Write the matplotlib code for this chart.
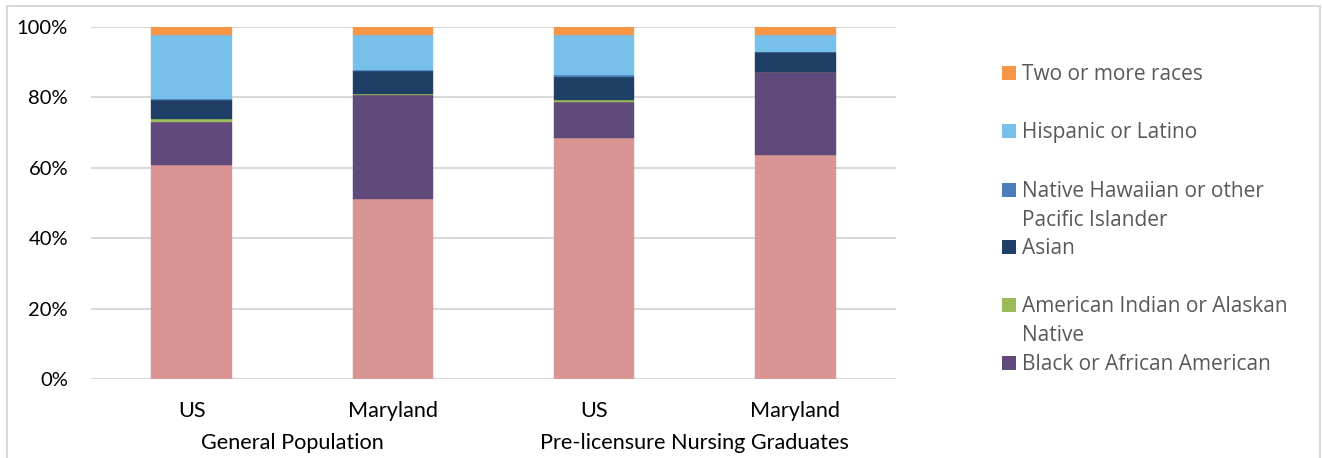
import matplotlib
matplotlib.use("Agg")
import matplotlib.pyplot as plt
from matplotlib.patches import Rectangle
from matplotlib.transforms import blended_transform_factory
import numpy as np

categories = ["US", "Maryland", "US", "Maryland"]
groups = ["General Population", "Pre-licensure Nursing Graduates"]

white = [60.8, 51.0, 68.4, 63.6]
black = [12.3, 29.6, 10.4, 23.6]
aian = [0.7, 0.3, 0.6, 0.1]
asian = [5.6, 6.7, 6.5, 5.5]
nhpi = [0.2, 0.1, 0.5, 0.1]
hispanic = [18.1, 10.0, 11.3, 4.7]
two_plus = [2.3, 2.3, 2.3, 2.4]

series = [
    ("White", white, "#D99594"),
    ("Black or African American", black, "#604A7B"),
    ("American Indian or Alaskan Native", aian, "#9BBB59"),
    ("Asian", asian, "#1F3F66"),
    ("Native Hawaiian or other Pacific Islander", nhpi, "#4A7EBB"),
    ("Hispanic or Latino", hispanic, "#77C0EA"),
    ("Two or more races", two_plus, "#F79646"),
]

W, H = 1322, 458
fig = plt.figure(figsize=(W / 100, H / 100), dpi=100)
ax = fig.add_axes([91 / W, 1 - 379 / H, (896 - 91) / W, (379 - 27) / H])

x = np.arange(len(categories))
bottom = np.zeros(len(categories))
for name, vals, col in series:
    v = np.array(vals, dtype=float)
    ax.bar(x, v, bottom=bottom, width=0.40, color=col, edgecolor=col, linewidth=0.3)
    bottom += v

ax.set_xlim(-0.5, 3.5)
ax.set_ylim(0, 100)
ax.set_yticks(np.arange(0, 101, 20))
ax.set_yticklabels([f"{t}%" for t in range(0, 101, 20)], fontsize=14.5, family="Lato")
ax.yaxis.grid(True, color="#D9D9D9", linewidth=1.5)
ax.set_axisbelow(True)
ax.tick_params(axis="y", length=0, pad=16.5)
ax.tick_params(axis="x", length=0)
ax.set_xticks([])
for s in ax.spines.values():
    s.set_visible(False)

trans = blended_transform_factory(ax.transData, fig.transFigure)
for i, c in enumerate(categories):
    ax.text(x[i], 1 - 417 / H, c, ha="center", va="baseline", fontsize=15.6, family="Lato",
            transform=trans, clip_on=False)
for j, g in enumerate(groups):
    ax.text(j * 2 + 0.5, 1 - 449 / H, g, ha="center", va="baseline", fontsize=15.6,
            family="Lato", transform=trans, clip_on=False)

# figure border
fig.add_artist(Rectangle((7 / W, -0.02), (1320 - 7) / W, 1 - 6 / H + 0.02,
                         transform=fig.transFigure, fill=False, edgecolor="#D9D9D9",
                         linewidth=1.5))

# legend (manual, Excel-like): text lines with their baselines
legend_items = [
    (["Two or more races"], "#F79646", [80]),
    (["Hispanic or Latino"], "#77C0EA", [138]),
    (["Native Hawaiian or other", "Pacific Islander"], "#4A7EBB", [197, 226]),
    (["Asian"], "#1F3F66", [254]),
    (["American Indian or Alaskan", "Native"], "#9BBB59", [312, 341]),
    (["Black or African American"], "#604A7B", [370]),
]
for lines, col, bases in legend_items:
    fig.add_artist(Rectangle((1002 / W, 1 - (bases[0]) / H), 14 / W, 14 / H,
                             transform=fig.transFigure, facecolor=col, edgecolor="none"))
    for ln, b in zip(lines, bases):
        fig.text(1022 / W, 1 - b / H, ln, ha="left", va="baseline", fontsize=15,
                 family="Open Sans", color="#595959")

fig.savefig("out.png", dpi=100)
